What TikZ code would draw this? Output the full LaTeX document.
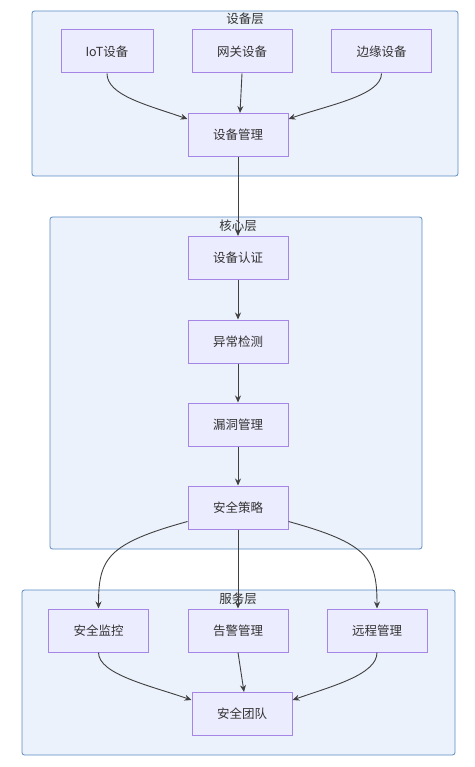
\documentclass[tikz,border=0pt]{standalone}
\usepackage{fontspec}
\setmainfont{Noto Sans CJK SC}
\usetikzlibrary{arrows.meta}
\definecolor{clfill}{HTML}{EBF2FC}\definecolor{clline}{HTML}{5A8BC3}
\definecolor{nodefill}{HTML}{ECECFF}\definecolor{nodeline}{HTML}{A585E6}
\definecolor{edge}{HTML}{404040}\definecolor{txt}{HTML}{333333}
\begin{document}
\begin{tikzpicture}[x=1pt,y=-1pt,font=\fontsize{12.5}{15}\selectfont,
  box/.style={draw=nodeline,fill=nodefill,line width=1pt,minimum width=100pt,minimum height=43pt,text=txt,inner sep=0pt},
  layer/.style={draw=clline,fill=clfill,rounded corners=2.5pt,line width=0.8pt},
  flow/.style={draw=edge,line width=0.9pt,-{Stealth[length=7pt,width=6pt]}}]
\useasboundingbox (0,0) rectangle (474,767);
\draw[layer] (32,11) rectangle (458,176);\draw[layer] (50,217) rectangle (422,549);\draw[layer] (22,590) rectangle (455,755);
\node[text=txt] (tdev) at (245,19) {设备层};\node[text=txt] (tcore) at (238,226) {核心层};\node[text=txt] (tsrv) at (238,599) {服务层};
\node[box,minimum width=92pt] (iot) at (107,51.5) {IoT设备};\node[box] (gw) at (242,51.5) {网关设备};\node[box] (edgedev) at (381.5,51.5) {边缘设备};
\node[box] (devmgmt) at (238,135) {设备管理};
\node[box] (auth) at (238,258) {设备认证};\node[box] (anom) at (238,341.5) {异常检测};
\node[box] (vuln) at (238,424.5) {漏洞管理};\node[box] (policy) at (238,507.5) {安全策略};
\node[box] (mon) at (98.5,630.5) {安全监控};\node[box] (alarm) at (238,630.5) {告警管理};\node[box] (remote) at (377,630.5) {远程管理};
\node[box] (team) at (242,714) {安全团队};
\draw[flow] (iot.south) .. controls +(0,22) and +(-40,-14) .. ([yshift=-6pt]devmgmt.north west);
\draw[flow] (gw.south) -- ([xshift=2pt]devmgmt.north);
\draw[flow] (edgedev.south) .. controls +(0,22) and +(40,-14) .. ([yshift=-6pt]devmgmt.north east);
\draw[flow] (devmgmt) -- (auth);\draw[flow] (auth) -- (anom);\draw[flow] (anom) -- (vuln);\draw[flow] (vuln) -- (policy);
\draw[flow] ([yshift=8pt]policy.south west) .. controls +(-80,22) and +(0,-50) .. (mon.north);
\draw[flow] (policy) -- (alarm);
\draw[flow] ([yshift=8pt]policy.south east) .. controls +(80,22) and +(0,-50) .. (remote.north);
\draw[flow] (mon.south) .. controls +(0,22) and +(-40,-14) .. ([yshift=-8pt]team.north west);
\draw[flow] (alarm.south) -- ([xshift=2pt]team.north);
\draw[flow] (remote.south) .. controls +(0,22) and +(40,-14) .. ([yshift=-8pt]team.north east);
\end{tikzpicture}
\end{document}
